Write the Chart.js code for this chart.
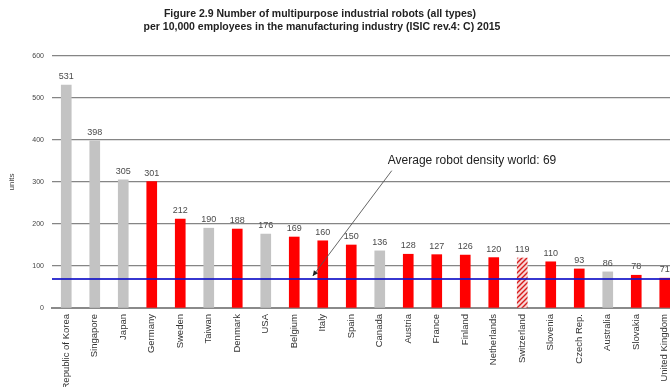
<!DOCTYPE html>
<html>
<head>
<meta charset="utf-8">
<script src="https://cdn.jsdelivr.net/npm/chart.js@4"></script>
<style>
  html, body { margin: 0; padding: 0; background: #fff; overflow: hidden; width: 670px; height: 387px; }
  #wrap { position: relative; width: 684px; height: 387px; }
</style>
</head>
<body>
<div id="wrap"><canvas id="c"></canvas></div>
<script>
// ---- data ----
const titleLines = [
  "Figure 2.9 Number of multipurpose industrial robots (all types)",
  "per 10,000 employees in the manufacturing industry (ISIC rev.4: C) 2015"
];
const countries = ["Republic of Korea", "Singapore", "Japan", "Germany", "Sweden", "Taiwan", "Denmark", "USA", "Belgium", "Italy", "Spain", "Canada", "Austria", "France", "Finland", "Netherlands", "Switzerland", "Slovenia", "Czech Rep.", "Australia", "Slovakia", "United Kingdom"];
const robotDensity = [531, 398, 305, 301, 212, 190, 188, 176, 169, 160, 150, 136, 128, 127, 126, 120, 119, 110, 93, 86, 78, 71];
// group: "o" = outside Europe (grey), "e" = Europe (red), "h" = hatched (estimate)
const groups = ["o", "o", "o", "e", "e", "o", "e", "o", "e", "e", "e", "o", "e", "e", "e", "e", "h", "e", "e", "o", "e", "e"];
const worldAverage = 69;
const annotationText = "Average robot density world: 69";
const yTicks = [0, 100, 200, 300, 400, 500, 600];
const yTitle = "units";

// ---- styling ----
function hatch() {
  const p = document.createElement("canvas");
  p.width = 5; p.height = 5;
  const g = p.getContext("2d");
  g.fillStyle = "#f7d6d6"; g.fillRect(0, 0, 5, 5);
  g.strokeStyle = "#d81c1c"; g.lineWidth = 1.4;
  g.beginPath();
  g.moveTo(-1, 6); g.lineTo(6, -1);
  g.moveTo(-1, 1); g.lineTo(1, -1);
  g.moveTo(4, 6); g.lineTo(6, 4);
  g.stroke();
  return g.createPattern(p, "repeat");
}
const hatchPat = hatch();
const barColors = groups.map(g => g === "o" ? "#c3c3c3" : (g === "e" ? "#ff0000" : hatchPat));

const FONT = "'Liberation Sans', Arial, sans-serif";

const overlay = {
  id: "overlay",
  afterDatasetsDraw(chart) {
    const { ctx, chartArea, scales } = chart;
    const x = scales.x, y = scales.y;
    ctx.save();
    // value labels
    ctx.font = "9px " + FONT;
    ctx.fillStyle = "#4a4a4a";
    ctx.textAlign = "center";
    ctx.textBaseline = "bottom";
    chart.getDatasetMeta(0).data.forEach((bar, i) => {
      ctx.fillText(String(robotDensity[i]), bar.x, bar.y - 4);
    });
    // world average line
    const ya = y.getPixelForValue(worldAverage);
    ctx.strokeStyle = "rgba(20,20,200,0.85)";
    ctx.lineWidth = 2;
    ctx.beginPath();
    ctx.moveTo(chartArea.left, ya);
    ctx.lineTo(chartArea.right + 20, ya);
    ctx.stroke();
    // annotation
    const tipX = x.getPixelForValue(9) - 10;
    const tipY = ya - 3;
    const sx = tipX + 79, sy = y.getPixelForValue(327);
    ctx.strokeStyle = "#555";
    ctx.lineWidth = 0.9;
    ctx.beginPath();
    ctx.moveTo(sx, sy);
    ctx.lineTo(tipX, tipY);
    ctx.stroke();
    const ang = Math.atan2(tipY - sy, tipX - sx);
    ctx.fillStyle = "#222";
    ctx.beginPath();
    ctx.moveTo(tipX, tipY);
    ctx.lineTo(tipX - 6 * Math.cos(ang - 0.45), tipY - 6 * Math.sin(ang - 0.45));
    ctx.lineTo(tipX - 6 * Math.cos(ang + 0.45), tipY - 6 * Math.sin(ang + 0.45));
    ctx.closePath();
    ctx.fill();
    ctx.font = "12px " + FONT;
    ctx.fillStyle = "#222";
    ctx.textAlign = "left";
    ctx.textBaseline = "middle";
    ctx.fillText(annotationText, x.getPixelForValue(11) + 8, y.getPixelForValue(351));
    ctx.restore();
  },
  afterDraw(chart) {
    const { ctx } = chart;
    ctx.save();
    ctx.font = "bold 10.5px " + FONT;
    ctx.fillStyle = "#222";
    ctx.textAlign = "center";
    ctx.textBaseline = "middle";
    ctx.fillText(titleLines[0], 320, 14);
    ctx.fillText(titleLines[1], 322, 27);
    ctx.restore();
  }
};

new Chart(document.getElementById("c"), {
  type: "bar",
  data: {
    labels: countries,
    datasets: [{
      data: robotDensity,
      backgroundColor: barColors,
      borderWidth: 0,
      barThickness: 10
    }]
  },
  options: {
    responsive: true,
    maintainAspectRatio: false,
    animation: false,
    devicePixelRatio: 1,
    layout: { padding: { top: 56, right: 5, left: 0, bottom: 0 } },
    plugins: { legend: { display: false }, tooltip: { enabled: false }, title: { display: false } },
    scales: {
      x: {
        afterFit(s) { s.height = 79; },
        grid: { display: false, drawTicks: false },
        border: { display: true, color: "#8a8a8a", width: 2 },
        ticks: {
          autoSkip: false, maxRotation: 90, minRotation: 90, padding: 6,
          color: "#333", font: { family: FONT, size: 9.5 }
        }
      },
      y: {
        min: 0, max: 600,
        afterFit(s) { s.width = 52; },
        afterBuildTicks(s) { s.ticks = yTicks.map(v => ({ value: v })); },
        grid: { color: "#858585", lineWidth: 1.2, drawTicks: false },
        border: { display: false },
        ticks: { padding: 8, color: "#444", font: { family: FONT, size: 7 } },
        title: { display: true, text: yTitle, color: "#444", font: { family: FONT, size: 8 }, padding: { top: 7, bottom: 0 } }
      }
    }
  },
  plugins: [overlay]
});
</script>
</body>
</html>
